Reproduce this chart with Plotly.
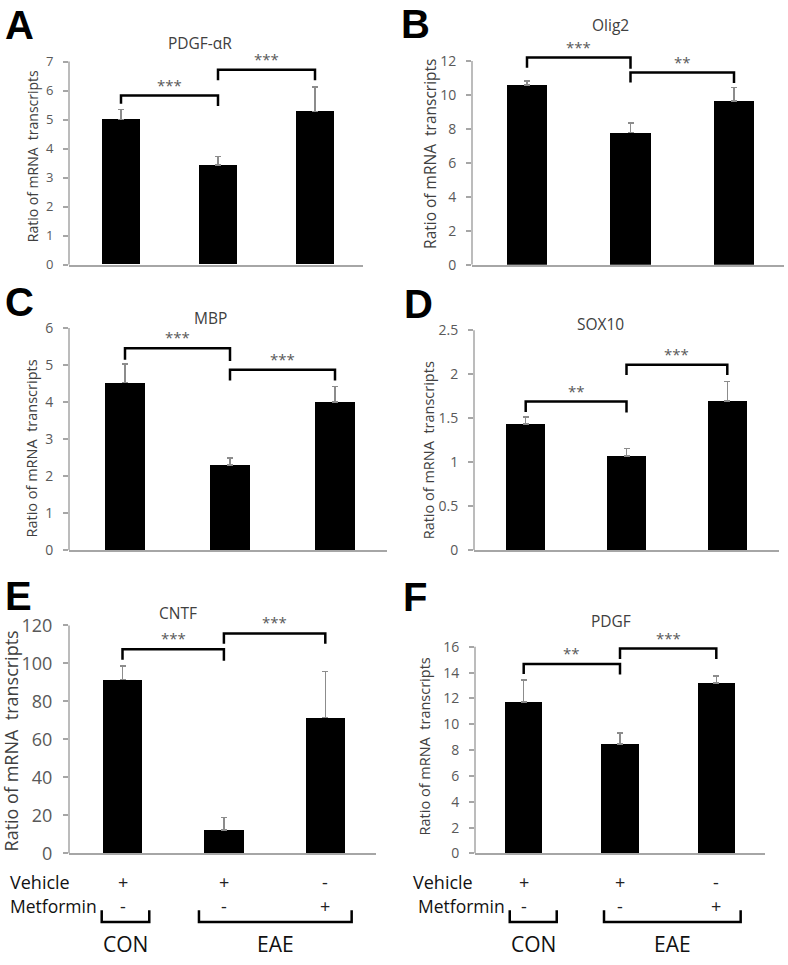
import plotly.graph_objects as go

W, H = 788, 965
FONT = "Open Sans"
GRAY_TXT = "#595959"
AXIS_COL = "#a6a6a6"

x_pos = [0, 1, 2]
vehicle_signs = ["+", "+", "-"]
metformin_signs = ["-", "-", "+"]

pdgfar_mean = [5.00, 3.44, 5.28]
pdgfar_err = [0.34, 0.29, 0.85]
olig2_mean = [10.58, 7.79, 9.65]
olig2_err = [0.25, 0.56, 0.78]
mbp_mean = [4.53, 2.30, 4.00]
mbp_err = [0.49, 0.19, 0.42]
sox10_mean = [1.434, 1.074, 1.695]
sox10_err = [0.082, 0.082, 0.225]
cntf_mean = [91.7, 12.3, 71.6]
cntf_err = [7.1, 6.7, 24.1]
pdgf_mean = [11.74, 8.47, 13.19]
pdgf_err = [1.71, 0.87, 0.54]

# significance brackets: (left bar, right bar, bracket level, left leg end, right leg end, label)
pdgfar_sig = [(0, 1, 5.83, 5.55, 5.47, "***"), (1, 2, 6.72, 6.36, 6.36, "***")]
olig2_sig = [(0, 1, 12.2, 11.6, 11.55, "***"), (1, 2, 11.32, 10.74, 10.7, "**")]
mbp_sig = [(0, 1, 5.45, 5.14, 5.11, "***"), (1, 2, 4.87, 4.58, 4.58, "***")]
sox10_sig = [(0, 1, 1.69, 1.57, 1.565, "**"), (1, 2, 2.107, 1.99, 1.99, "***")]
cntf_sig = [(0, 1, 107.5, 102.0, 101.5, "***"), (1, 2, 115.8, 110.4, 110.4, "***")]
pdgf_sig = [(0, 1, 14.67, 13.9, 13.86, "**"), (1, 2, 15.87, 15.05, 15.05, "***")]

panels = [
    dict(letter="A", title="PDGF-\u03b1R", mean=pdgfar_mean, err=pdgfar_err, sig=pdgfar_sig,
         ymax=7, dtick=1, box=(69, 363, 62.3, 267.7), bars=(121, 97), tfs=13,
         lpos=(3, 22.5), tpos=(200, 43), ypos=(32, 158), yfs=14),
    dict(letter="B", title="Olig2", mean=olig2_mean, err=olig2_err, sig=olig2_sig,
         ymax=12, dtick=2, box=(472, 784, 61.7, 267.7), bars=(527, 103.5), tfs=14,
         lpos=(399, 21), tpos=(610.7, 25), ypos=(430.7, 156), yfs=15.5),
    dict(letter="C", title="MBP", mean=mbp_mean, err=mbp_err, sig=mbp_sig,
         ymax=6, dtick=1, box=(69, 386.7, 331.7, 556.7), bars=(125, 105), tfs=14,
         lpos=(3, 302), tpos=(210, 321.7), ypos=(31.7, 454), yfs=14.5),
    dict(letter="D", title="SOX10", mean=sox10_mean, err=sox10_err, sig=sox10_sig,
         ymax=2.5, dtick=0.5, box=(474, 779, 334, 556.7), bars=(525.7, 100.8), tfs=14,
         lpos=(402, 304), tpos=(600.7, 327.7), ypos=(428, 455.5), yfs=14.5),
    dict(letter="E", title="CNTF", mean=cntf_mean, err=cntf_err, sig=cntf_sig,
         ymax=120, dtick=20, box=(69, 375.7, 632.7, 863.3), bars=(122.5, 101.4), tfs=18,
         lpos=(3, 600), tpos=(178.3, 620), ypos=(11, 750), yfs=18),
    dict(letter="F", title="PDGF", mean=pdgf_mean, err=pdgf_err, sig=pdgf_sig,
         ymax=16, dtick=2, box=(475, 764.7, 654.3, 863.3), bars=(523.7, 96.3), tfs=14,
         lpos=(401, 601), tpos=(610.7, 628.3), ypos=(424, 755), yfs=14.5),
]

EXT = 1.1  # headroom above the drawn axis so brackets are not clipped

fig = go.Figure()
annotations = []
shapes = []

for i, p in enumerate(panels, start=1):
    xa = "x" if i == 1 else f"x{i}"
    ya = "y" if i == 1 else f"y{i}"
    L, R, T, B = p["box"]
    c0, s = p["bars"]
    xr = [(L - c0) / s, (R - c0) / s]
    T_ext = B - (B - T) * EXT

    fig.add_trace(go.Bar(
        x=x_pos, y=p["mean"], xaxis=xa, yaxis=ya, width=0.39,
        marker=dict(color="black", line=dict(width=0)),
        error_y=dict(type="data", array=p["err"], arrayminus=[0, 0, 0], symmetric=False,
                     color="#8c8c8c", thickness=1.5, width=3),
        showlegend=False, hoverinfo="skip",
    ))
    for (a, b, lvl, la, lb, lab) in p["sig"]:
        fig.add_trace(go.Scatter(
            x=[a, a, b, b], y=[la, lvl, lvl, lb], xaxis=xa, yaxis=ya, mode="lines",
            line=dict(color="black", width=2.5), showlegend=False, hoverinfo="skip",
        ))
        annotations.append(dict(x=(a + b) / 2, y=lvl, xref=xa, yref=ya, text=lab,
                                showarrow=False, yanchor="bottom", yshift=-1,
                                font=dict(family=FONT, size=15, color=GRAY_TXT)))

    axkey = "xaxis" if i == 1 else f"xaxis{i}"
    aykey = "yaxis" if i == 1 else f"yaxis{i}"
    fig.update_layout(**{
        axkey: dict(domain=[L / W, R / W], range=xr, showgrid=False, zeroline=False,
                    showline=True, linecolor=AXIS_COL, linewidth=1.5, ticks="",
                    showticklabels=False, anchor=ya, fixedrange=True),
        aykey: dict(domain=[1 - B / H, 1 - T_ext / H], range=[0, p["ymax"] * EXT],
                    tickvals=[k * p["dtick"] for k in range(int(round(p["ymax"] / p["dtick"])) + 1)],
                    showgrid=False, zeroline=False, showline=False,
                    ticks="outside", ticklen=5, tickcolor=AXIS_COL,
                    tickwidth=1.5, ticklabelstandoff=7,
                    tickfont=dict(family=FONT, size=p["tfs"], color=GRAY_TXT),
                    anchor=xa, fixedrange=True),
    })
    # y axis line from 0 to ymax
    shapes.append(dict(type="line", xref=f"{xa} domain", yref=ya, x0=0, x1=0, y0=0, y1=p["ymax"],
                       line=dict(color=AXIS_COL, width=1.5)))

    annotations.append(dict(x=p["lpos"][0] / W, y=1 - p["lpos"][1] / H, xref="paper", yref="paper",
                            text=f"<b>{p['letter']}</b>", showarrow=False, xanchor="left",
                            yanchor="middle", yshift=-3,
                            font=dict(family="Liberation Sans", size=40, color="black")))
    annotations.append(dict(x=p["tpos"][0] / W, y=1 - p["tpos"][1] / H, xref="paper", yref="paper",
                            text=p["title"], showarrow=False, xanchor="center", yanchor="middle",
                            font=dict(family=FONT, size=15.5, color="#404040")))
    annotations.append(dict(x=p["ypos"][0] / W, y=1 - p["ypos"][1] / H, xref="paper", yref="paper",
                            text="Ratio of mRNA\u00a0 transcripts", showarrow=False, textangle=-90,
                            xanchor="center", yanchor="middle",
                            font=dict(family=FONT, size=p["yfs"], color="#404040")))

rows = [
    dict(xa="x5", vx=8, mx=8, con=(-0.205, 0.264), eae=(0.754, 2.26)),
    dict(xa="x6", vx=410.7, mx=415.7, con=(-0.145, 0.343), eae=(0.834, 2.253)),
]
ROW_V, ROW_M, BR_TOP, BR_BOT, LAB_Y = 891.7, 916.7, 920.7, 932.7, 955
for r in rows:
    annotations.append(dict(x=r["vx"] / W, y=1 - ROW_V / H, xref="paper", yref="paper",
                            text="Vehicle", showarrow=False, xanchor="left", yanchor="middle",
                            font=dict(family=FONT, size=18, color="#111")))
    annotations.append(dict(x=r["mx"] / W, y=1 - ROW_M / H, xref="paper", yref="paper",
                            text="Metformin", showarrow=False, xanchor="left", yanchor="middle",
                            font=dict(family=FONT, size=17.5, color="#111")))
    for xv, vs, ms in zip(x_pos, vehicle_signs, metformin_signs):
        annotations.append(dict(x=xv, y=1 - ROW_V / H, xref=r["xa"], yref="paper", text=vs,
                                showarrow=False, yanchor="middle",
                                font=dict(family=FONT, size=18, color="#222")))
        annotations.append(dict(x=xv, y=1 - ROW_M / H, xref=r["xa"], yref="paper", text=ms,
                                showarrow=False, yanchor="middle",
                                font=dict(family=FONT, size=18, color="#222")))
    for (x0, x1), lab in [(r["con"], "CON"), (r["eae"], "EAE")]:
        yt, yb = 1 - BR_TOP / H, 1 - BR_BOT / H
        shapes.append(dict(type="path", xref=r["xa"], yref="paper",
                           path=f"M {x0},{yt} L {x0},{yb} L {x1},{yb} L {x1},{yt}",
                           line=dict(color="black", width=2.5)))
        annotations.append(dict(x=(x0 + x1) / 2, y=1 - LAB_Y / H, xref=r["xa"], yref="paper",
                                text=lab, showarrow=False, yanchor="middle",
                                font=dict(family=FONT, size=21, color="#111")))

fig.update_layout(
    width=W, height=H, margin=dict(l=0, r=0, t=0, b=0),
    paper_bgcolor="white", plot_bgcolor="white",
    annotations=annotations, shapes=shapes, bargap=0,
    font=dict(family=FONT),
)

fig.write_html("out.html", config={"displayModeBar": False},
               post_script="document.body.style.margin='0px';")
